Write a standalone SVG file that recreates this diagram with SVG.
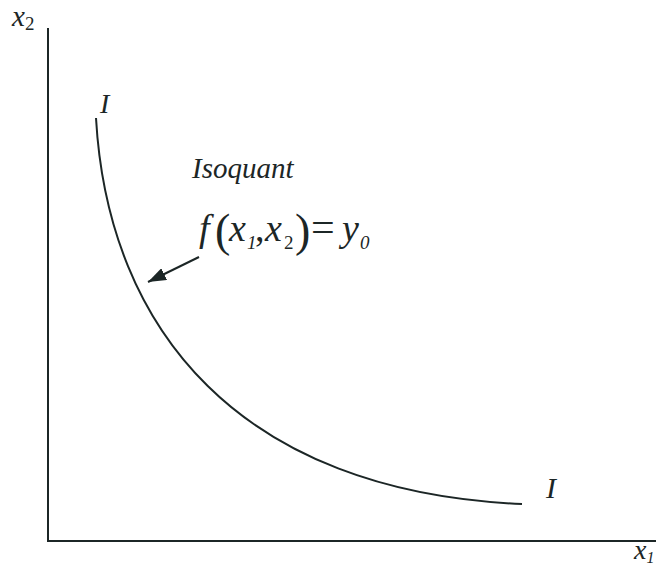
<svg xmlns="http://www.w3.org/2000/svg" width="662" height="565" viewBox="0 0 662 565">
<style>
.ln{fill:none;stroke:#1c2626;stroke-width:2}
.t{font-family:'Liberation Serif','Times New Roman',serif;font-style:italic;fill:#1c2626}
.u{font-style:normal}
</style>
<defs>
<marker id="ah2" markerWidth="19" markerHeight="13" refX="18" refY="6.5" orient="auto" markerUnits="userSpaceOnUse" viewBox="0 0 19 13">
<path d="M0,0 L18,6.5 L0,13 Z" fill="#1c2626"/>
</marker>
</defs>
<rect width="662" height="565" fill="#fff"/>
<g id="axes">
<path class="ln" d="M48,28 L48,541 L656,541"/>
<text class="t" x="12" y="26" font-size="29">x<tspan font-size="19" dy="4" class="u">2</tspan></text>
<text class="t" x="634" y="559" font-size="28">x<tspan font-size="16" dy="4">1</tspan></text>
</g>
<g id="isoquant">
<path class="ln" d="M96,118 C108,330 240,492 522,504"/>
<text class="t" x="100" y="113" font-size="28">I</text>
<text class="t" x="546" y="498" font-size="30">I</text>
</g>
<g id="label">
<text class="t" x="192" y="178" font-size="29">Isoquant</text>
<text class="t" font-size="38" y="241"><tspan x="199">f</tspan><tspan class="u" x="215" y="246" font-size="46">(</tspan><tspan x="229" y="241">x</tspan><tspan x="247" y="249" font-size="19">1</tspan><tspan class="u" x="255" y="241">,</tspan><tspan x="265">x</tspan><tspan class="u" x="284" y="249" font-size="19">2</tspan><tspan class="u" x="295" y="246" font-size="46">)</tspan><tspan class="u" x="311" y="241" font-size="42">=</tspan><tspan x="342">y</tspan><tspan x="360" y="249" font-size="19">0</tspan></text>
</g>
<g id="connectors">
<line class="ln" x1="199" y1="257" x2="148" y2="282" marker-end="url(#ah2)"/>
</g>
</svg>
